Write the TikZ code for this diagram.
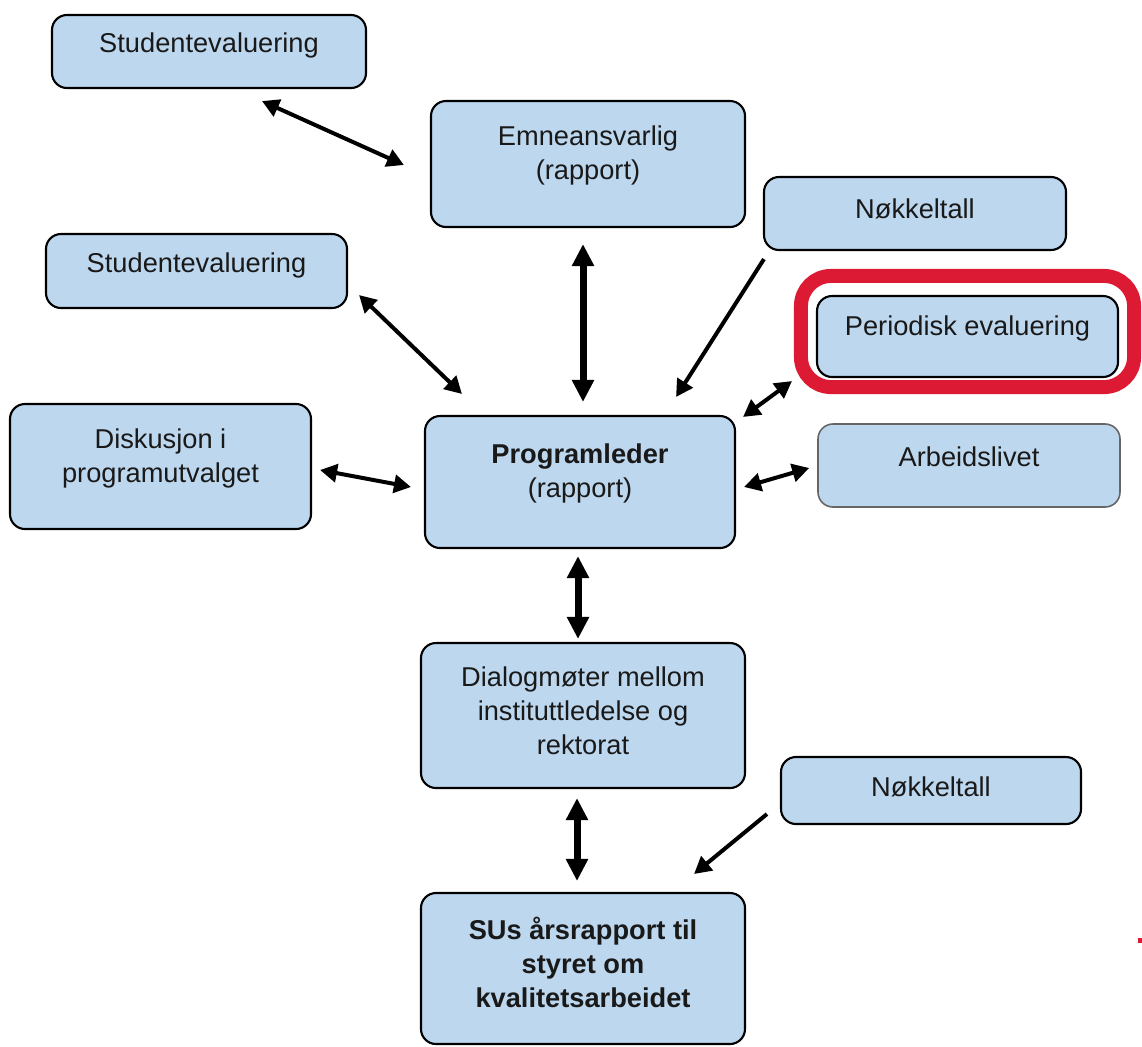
\documentclass[tikz,border=0pt]{standalone}
\usepackage{fontspec}
\setmainfont{Liberation Sans}
\usepackage{xcolor}
\usepackage{tikz}
\usetikzlibrary{arrows.meta}

\definecolor{boxblue}{RGB}{189,215,238}
\definecolor{framered}{RGB}{221,26,52}

\begin{document}
\begin{tikzpicture}[x=0.02cm, y=-0.02cm,
    box/.style={fill=boxblue, rounded corners=0.3cm, inner sep=0pt},
    boxtext/.style={align=center, font=\fontsize{15.5}{19.4}\selectfont, text=black!90, inner sep=0pt},
    thinarr/.style={line width=0.08cm, >={Triangle[length=0.34cm,width=0.36cm]}},
    thickarr/.style={line width=0.14cm, >={Triangle[length=0.44cm,width=0.42cm]}}]
    \useasboundingbox (0,0) rectangle (1142,1046);
    % boxes: name / border colour / border width / centre / size / text raise / text
    \foreach \n/\bc/\lw/\cx/\cy/\w/\h/\dy/\t in {
        stud1/black/1.2pt/209/51.5/314/73/6.5/{Studentevaluering},
        emne/black/1.2pt/588/164/314/126/9/{Emneansvarlig\\(rapport)},
        nokk1/black/1.2pt/915/213.5/302/73/4.5/{Nøkkeltall},
        stud2/black/1.2pt/196.5/271/301/74/6/{Studentevaluering},
        peri/black/1.2pt/967.5/336.5/301/81/8/{Periodisk evaluering},
        disk/black/1.2pt/160.5/466.5/301/125/8/{Diskusjon i\\programutvalget},
        prog/black/1.2pt/580/482/310/132/8.5/{\textbf{Programleder}\\(rapport)},
        arbeid/black!60/0.9pt/969/465.5/302/83/9/{Arbeidslivet},
        dialog/black/1.2pt/583/715.5/324/145/5/{Dialogmøter mellom\\instituttledelse og\\rektorat},
        nokk2/black/1.2pt/931/790.5/300/67/3.5/{Nøkkeltall},
        sus/black/1.2pt/583/968.5/324/151/6.5/{\textbf{SUs årsrapport til}\\\textbf{styret om}\\\textbf{kvalitetsarbeidet}}}
    {
        \node[box, draw=\bc, line width=\lw, minimum width=\w*0.02cm, minimum height=\h*0.02cm] (\n) at (\cx,\cy) {};
        \node[boxtext] (\n-t) at ([shift={(0,-\dy)}]\n.center) {\t};
    }
    % red frame round the periodic evaluation
    \draw[framered, line width=0.28cm, rounded corners=0.6cm] ([shift={(-15,-19)}]peri.north west) rectangle ([shift={(15,9)}]peri.south east);
    \fill[framered] (1138,938) rectangle (1142,943);
    % connectors
    \draw[thinarr,<->] ([shift={(53,12)}]stud1.south) -- ([shift={(-26,1)}]emne.west);
    \draw[thickarr,<->] ([shift={(-5,16)}]emne.south) -- ([shift={(3,-13)}]prog.north);
    \draw[thinarr,->] ([shift={(1,8)}]nokk1.south west) -- ([shift={(-60,-18)}]prog.north east);
    \draw[thinarr,<->] ([shift={(11,24)}]stud2.east) -- ([shift={(38,-21)}]prog.north west);
    \draw[thinarr,<->] ([shift={(-24,3)}]peri.south west) -- ([shift={(7,2)}]prog.north east);
    \draw[thinarr,<->] ([shift={(8,3.5)}]disk.east) -- ([shift={(-13,5)}]prog.west);
    \draw[thinarr,<->] ([shift={(8,5)}]prog.east) -- ([shift={(-8,2.5)}]arbeid.west);
    \draw[thickarr,<->] ([shift={(-2,7)}]prog.south) -- ([shift={(-5,-3)}]dialog.north);
    \draw[thickarr,<->] ([shift={(-6,9)}]dialog.south) -- ([shift={(-6,-11)}]sus.north);
    \draw[thinarr,->] ([shift={(-13,-11)}]nokk2.south west) -- ([shift={(-52,-18)}]sus.north east);
\end{tikzpicture}
\end{document}
